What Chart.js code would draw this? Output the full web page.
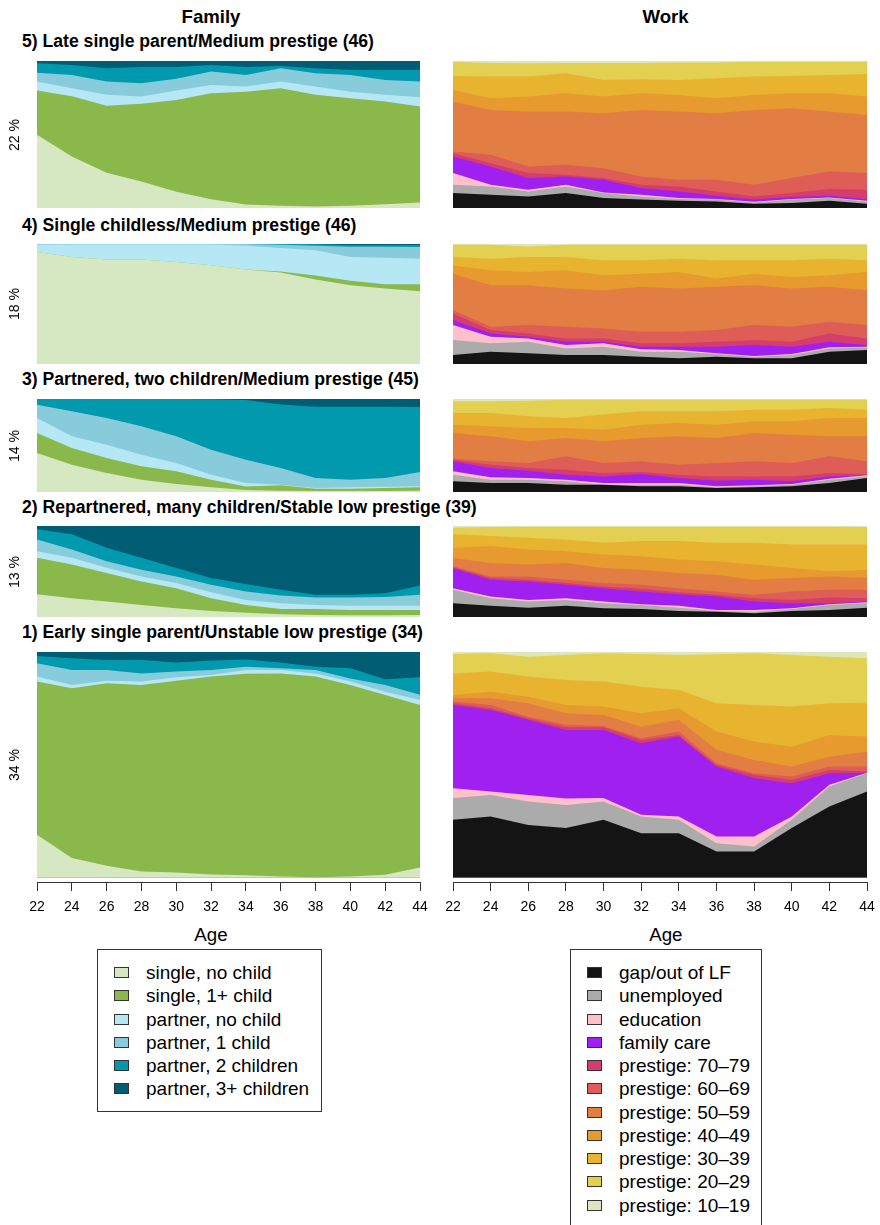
<!DOCTYPE html>
<html>
<head>
<meta charset="utf-8">
<script src="https://cdn.jsdelivr.net/npm/chart.js"></script>
<style>
    body { margin: 0; background: #fff; font-family: "Liberation Sans", Arial, sans-serif; }
    #page { position: relative; width: 880px; height: 1225px; overflow: hidden; background: #fff; }
    .txt { position: absolute; white-space: nowrap; line-height: 1; color: #000; }
    .head { font-weight: bold; font-size: 18.6px; transform: translateX(-50%); }
    .ptitle { font-weight: bold; font-size: 17.6px; left: 22px; }
    .ylab { font-size: 14px; transform: translate(-50%, -50%) rotate(-90deg); left: 14px; }
    .age { font-size: 18.7px; transform: translateX(-50%); top: 926px; }
    .legbox { position: absolute; border: 1px solid #333; box-sizing: border-box; }
    .sq { position: absolute; width: 15px; height: 11px; border: 1px solid #333; box-sizing: border-box; }
    .legtxt { position: absolute; font-size: 19px; line-height: 1; white-space: nowrap; }
</style>
</head>
<body>
<div id="page">
    <div class="txt head" style="left:211px; top:7.5px;">Family</div>
    <div class="txt head" style="left:665.5px; top:7.5px;">Work</div>
    <div class="legbox" style="left:97px; top:949px; width:225px; height:163px;"></div>
    <div class="legbox" style="left:570px; top:949px; width:192px; height:290px;"></div>
    <div class="txt age" style="left:211px;">Age</div>
    <div class="txt age" style="left:665.8px;">Age</div>
</div>

<script type="text/javascript">
    const ages = [22, 24, 26, 28, 30, 32, 34, 36, 38, 40, 42, 44];

    const familyStates = ['single, no child', 'single, 1+ child', 'partner, no child',
                          'partner, 1 child', 'partner, 2 children', 'partner, 3+ children'];
    const familyColors = ['#D5E8C1', '#8BB84A', '#B5E7F5', '#88CCDC', '#0099AD', '#015D73'];

    const workStates = ['gap/out of LF', 'unemployed', 'education', 'family care',
                        'prestige: 70\u201379', 'prestige: 60\u201369', 'prestige: 50\u201359',
                        'prestige: 40\u201349', 'prestige: 30\u201339', 'prestige: 20\u201329',
                        'prestige: 10\u201319'];
    const workColors = ['#141414', '#ABABAB', '#FFC0CB', '#A020F0', '#D63D6C', '#DE5D57',
                        '#E27E43', '#E79A2E', '#E8B42F', '#E3CF50', '#DFE6BF'];

    const clusterTitles = ['5) Late single parent/Medium prestige (46)',
                           '4) Single childless/Medium prestige (46)',
                           '3) Partnered, two children/Medium prestige (45)',
                           '2) Repartnered, many children/Stable low prestige (39)',
                           '1) Early single parent/Unstable low prestige (34)'];
    const clusterShares = ['22 %', '18 %', '14 %', '13 %', '34 %'];

    // upper edge of every state, cumulative % from the bottom of the panel
    const fam5 = [
        [49.8, 35, 24, 18, 11, 6, 2.3, 1.6, 1.1, 1.6, 2.5, 3.8],
        [80, 76, 69.5, 71, 73.5, 78, 79, 81.4, 77, 74.7, 72.4, 69],
        [86, 81.4, 77, 75.8, 80, 83.7, 82.6, 86, 82.6, 79, 77, 75.3],
        [92, 90.5, 86, 84.8, 88, 92.8, 90.5, 95, 91.6, 90.5, 87, 86],
        [98.4, 97.3, 95, 96, 96, 97.3, 96, 96.6, 95, 93.9, 93.9, 93.9],
        [100, 100, 100, 100, 100, 100, 100, 100, 100, 100, 100, 100]
    ];
    const fam4 = [
        [93.4, 89.2, 87, 87, 85, 82.3, 78.7, 76.2, 70.4, 65.7, 62.9, 60.7],
        [93.4, 89.2, 87, 87, 85, 82.3, 78.7, 77, 73.7, 69.3, 66.5, 66.5],
        [99.4, 99.6, 99.6, 99.6, 99.6, 99.6, 98.5, 96.7, 94.7, 89.2, 88.6, 87.8],
        [100, 100, 100, 100, 100, 100, 100, 99.4, 98.5, 97.8, 97.8, 97.5],
        [100, 100, 100, 100, 100, 100, 100, 100, 100, 99.2, 99.2, 99.2],
        [100, 100, 100, 100, 100, 100, 100, 100, 100, 100, 100, 100]
    ];
    const fam3 = [
        [42, 29.4, 20.4, 13.3, 8.6, 5, 2.2, 1.4, 1, 1, 1, 1.4],
        [63.4, 47.3, 36.6, 27.6, 22.2, 13.3, 6, 7.2, 3.6, 3.6, 4.3, 5],
        [79.6, 59.9, 50.9, 40, 31.2, 18.6, 9.7, 7.9, 4.3, 5, 5.7, 6.1],
        [93.9, 86.7, 79.6, 70.6, 59.9, 45.5, 34.8, 25.8, 15, 13.3, 15, 21.5],
        [100, 100, 100, 100, 100, 99.6, 98.9, 94, 91.8, 91.8, 91.8, 91.4],
        [100, 100, 100, 100, 100, 100, 100, 100, 100, 100, 100, 100]
    ];
    const fam2 = [
        [25, 20.7, 17, 13.3, 9.6, 6.6, 4.8, 3, 2.2, 1.8, 1.8, 2.2],
        [65, 57.6, 48.3, 39, 31.7, 20.7, 13.3, 8.9, 8.9, 7.7, 7.7, 7.7],
        [72.3, 65, 54, 44.6, 37.3, 27.3, 18.8, 15.1, 13.3, 12.5, 12.5, 12.5],
        [85.2, 74.2, 61.3, 52, 44.6, 35.4, 28, 23.6, 21.4, 21.4, 22.1, 24.4],
        [96.3, 90.8, 76, 65, 53.9, 42.8, 36.2, 29.9, 24.4, 24.4, 26.2, 34.7],
        [100, 100, 100, 100, 100, 100, 100, 100, 100, 100, 100, 100]
    ];
    const fam1 = [
        [18.9, 8.6, 5.2, 2.7, 2.2, 1.3, 1, 0.4, 0.1, 0.4, 1.2, 4.4],
        [86.9, 83.9, 86.1, 85.4, 87.3, 89.1, 90.3, 90.5, 89.1, 85.4, 80.9, 76.5],
        [89.1, 85.4, 87.3, 86.9, 88.8, 89.8, 92, 92, 90.5, 86.9, 82.4, 78.7],
        [95, 92, 92, 90.5, 91.3, 92, 93.5, 92.8, 92, 88.3, 85.4, 81],
        [98.2, 97.2, 96.5, 96.5, 95.3, 96.2, 96.7, 95.3, 93.5, 92.8, 87.9, 88.8],
        [100, 100, 100, 100, 100, 100, 100, 100, 100, 100, 100, 100]
    ];

    const work5 = [
        [10.2, 9, 7.9, 10.2, 6.8, 5.7, 5, 4.5, 2.9, 3.4, 5, 2.9],
        [15.8, 14.7, 11.3, 14.7, 10.2, 7.9, 6.1, 5.7, 3.8, 5.7, 6.8, 4.5],
        [23.8, 15.8, 12.4, 15.8, 10.6, 9, 6.8, 6.1, 4.3, 6.1, 7.2, 5],
        [35, 28.3, 20.4, 21.5, 19.2, 13.6, 11.3, 8.4, 5.7, 7.5, 8.4, 6.1],
        [37.3, 30.5, 23.8, 22.6, 20.4, 15.8, 14.7, 11.3, 7.9, 10.2, 12.9, 12.4],
        [38.5, 36.2, 28.3, 29.4, 27.1, 21.5, 19.2, 19.2, 15.8, 20.4, 24.9, 23.8],
        [72.4, 66.7, 65.6, 65.6, 64.5, 66.7, 65.6, 64.5, 66.7, 67.9, 65.6, 63.3],
        [80.3, 74.7, 75.8, 78, 75.8, 78, 76.9, 74.7, 76.9, 78, 78, 75.8],
        [89.8, 89.4, 89.4, 91.6, 87.1, 87.6, 87.1, 88.2, 89.4, 89.8, 90.5, 91.2],
        [99.5, 98.6, 98.5, 98.6, 98.6, 98.7, 98.9, 98.9, 99.5, 99.5, 99.5, 99.5],
        [100, 100, 100, 100, 100, 100, 100, 100, 100, 100, 100, 100]
    ];
    const work4 = [
        [7.5, 10.2, 8.9, 7.5, 7.5, 6.1, 4.7, 6.1, 4.7, 4.7, 10.2, 11.6],
        [19.9, 17.2, 18.6, 13, 14.4, 10.2, 10.2, 8.3, 6.1, 7.5, 13, 13.9],
        [32.4, 22.7, 21.3, 15.8, 17.2, 12.2, 11.6, 8.9, 6.6, 8.3, 13.9, 14.4],
        [36.6, 25.5, 22.7, 18.6, 18.6, 14.4, 14.4, 14.4, 15.8, 14.4, 18.6, 15.8],
        [42.1, 28.3, 25.5, 21.3, 21.3, 17.2, 17.2, 18.6, 19.9, 18.6, 25.5, 21.3],
        [44.9, 31, 32.4, 31, 29.6, 26.9, 26.9, 28.3, 32.4, 31, 35.2, 32.4],
        [75.3, 65.7, 65.7, 62.9, 61.5, 64.3, 62.9, 64.3, 65.7, 62.9, 64.3, 61.5],
        [82, 78.1, 76.7, 78.1, 74, 75.3, 76.7, 71.2, 75.3, 72.6, 74, 76.7],
        [89.2, 87.8, 89.2, 89.2, 86.4, 86.4, 87.8, 86.4, 86.4, 86.4, 87.8, 86.4],
        [99.4, 99.4, 98, 99.4, 99.4, 99.4, 99.4, 99.4, 99.4, 99.4, 99.4, 99.4],
        [100, 100, 100, 100, 100, 100, 100, 100, 100, 100, 100, 100]
    ];
    const work3 = [
        [11.5, 9.7, 9.7, 7.9, 7.9, 6.1, 6.1, 4.3, 5, 6.1, 9.7, 15.1],
        [18.6, 13.3, 13.3, 11.5, 7.9, 7.9, 7.9, 5, 6.1, 7.9, 13.3, 16.8],
        [22.2, 15.8, 15.1, 13.3, 9.7, 9.7, 9.7, 6.1, 7.2, 8.6, 14.3, 17.9],
        [33, 25.8, 22.9, 18.6, 16.8, 19.4, 15.1, 12.2, 13.3, 11.5, 16.8, 17.9],
        [34.8, 29.4, 25.8, 24, 20.4, 21.5, 18.6, 16.8, 16.8, 16.8, 20.4, 19.4],
        [35.8, 33, 31.2, 38.4, 31.2, 33, 29.4, 31.2, 33, 31.2, 38.4, 33],
        [63.4, 59.9, 54.5, 58.1, 54.5, 58.1, 59.9, 58.1, 63.4, 61.6, 59.9, 59.9],
        [72.4, 70.6, 68.8, 68.8, 67, 72.4, 74.2, 72.4, 76, 76, 79.6, 79.6],
        [84.9, 84.9, 81.4, 79.6, 83.2, 86.7, 86.7, 86.7, 88.5, 88.5, 90.3, 88.5],
        [97.5, 97.5, 98.2, 99.3, 99.3, 99.3, 99.3, 99.3, 99.3, 99.3, 99.3, 99.3],
        [100, 100, 100, 100, 100, 100, 100, 100, 100, 100, 100, 100]
    ];
    const work2 = [
        [15.1, 12.5, 10.3, 12.5, 9.6, 8.9, 6.6, 5.9, 4.1, 6.6, 7.7, 10.3],
        [29.9, 20.7, 17, 18.8, 15.1, 13.3, 10.3, 6.6, 5.9, 8.9, 13.3, 15.1],
        [31.7, 22.5, 18.8, 20.7, 17, 14, 12.5, 7.7, 7.7, 9.6, 14, 16.2],
        [53.9, 41, 39.1, 35.4, 31.7, 28, 25.1, 22.5, 17, 15.1, 15.1, 17],
        [54.6, 42.8, 41, 37.3, 33.6, 31, 27.3, 24.4, 20.7, 18.8, 21.4, 20.7],
        [55.7, 44.6, 44.6, 41, 37.3, 35.4, 31.7, 28, 24.4, 28, 29.9, 29.9],
        [64.9, 59.4, 57.6, 59.4, 53.9, 52, 48.3, 46.5, 41, 42.8, 44.6, 42.8],
        [76, 77.9, 74.2, 72.3, 68.6, 66.8, 63.1, 61.3, 57.6, 53.9, 50.2, 52],
        [90.8, 89, 87.1, 85.2, 81.5, 83.4, 83.4, 81.5, 81.5, 79.7, 79.7, 79.7],
        [98.2, 98.9, 99.3, 99.3, 99.3, 99.3, 99.3, 99.3, 99.3, 99.3, 99.3, 98.9],
        [100, 100, 100, 100, 100, 100, 100, 100, 100, 100, 100, 100]
    ];
    const work1 = [
        [25.6, 27, 23.3, 21.9, 25.6, 19.6, 19.6, 11.5, 11.5, 21.9, 31.5, 38.1],
        [35.2, 36.6, 33.7, 32.2, 33.7, 27, 25.6, 15.2, 13.7, 25.6, 40.3, 46.2],
        [39.6, 38.1, 36.6, 35, 35.2, 27.8, 27, 18.2, 18.2, 27, 41.1, 46.4],
        [76.5, 74.3, 69.9, 65.4, 65.4, 59.5, 62.5, 49.2, 44, 41.8, 46.2, 46.4],
        [77.3, 75, 70.6, 66.6, 66.6, 61, 63.2, 49.9, 45.5, 43.3, 47.7, 47],
        [78, 76.5, 71.3, 67.7, 67.2, 61.7, 64.7, 50.7, 46.2, 44.8, 49.2, 49.2],
        [79.5, 79.5, 77.3, 72.8, 72.1, 66.9, 69.9, 56.6, 52.1, 49.2, 53.6, 55.8],
        [80.9, 82.4, 80.2, 76.5, 75.8, 72.8, 75, 64.7, 60.3, 58, 63.2, 62.5],
        [90.5, 91.3, 89.1, 87.6, 86.9, 84.6, 83.2, 77.3, 76.5, 75.8, 77.3, 77.5],
        [99.1, 99.4, 97.9, 98.7, 99.4, 99.1, 98.7, 99, 99.4, 98.7, 97.9, 97.2],
        [100, 100, 100, 100, 100, 100, 100, 100, 100, 100, 100, 100]
    ];

    const familyPanels = [fam5, fam4, fam3, fam2, fam1];
    const workPanels = [work5, work4, work3, work2, work1];

    // panel rows: top of plot region and its height (px), last row carries the age axis
    const rowTops = [61, 244, 399, 526, 652];
    const rowHeights = [147, 120, 93, 91, 230];

    const page = document.getElementById('page');
    const fontFamily = '"Liberation Sans", Arial, sans-serif';

    function addText(cls, text, style) {
        const d = document.createElement('div');
        d.className = 'txt ' + cls;
        d.textContent = text;
        Object.assign(d.style, style);
        page.appendChild(d);
    }

    function drawPanel(edges, colors, left, top, width, height, withAxis) {
        const pad = 16;
        const axisH = withAxis ? 36 : 0;
        const canvas = document.createElement('canvas');
        canvas.width = width + 2 * pad;
        canvas.height = height + axisH;
        canvas.style.position = 'absolute';
        canvas.style.left = (left - pad) + 'px';
        canvas.style.top = top + 'px';
        page.appendChild(canvas);

        // every state is filled from 0 up to its upper edge; lower states are drawn on top
        const datasets = edges.map((edge, i) => ({
            data: ages.map((a, j) => ({ x: a, y: edge[j] })),
            backgroundColor: colors[i],
            borderColor: 'rgba(0,0,0,0)',
            borderWidth: 0,
            pointRadius: 0,
            tension: 0,
            fill: 'origin',
            order: i
        }));

        new Chart(canvas, {
            type: 'line',
            data: { datasets: datasets },
            options: {
                responsive: false,
                animation: false,
                devicePixelRatio: 1,
                events: [],
                layout: { autoPadding: false, padding: { left: pad, right: pad, top: 0, bottom: 0 } },
                plugins: { legend: { display: false }, tooltip: { enabled: false } },
                scales: {
                    x: {
                        type: 'linear', min: 22, max: 44, display: withAxis,
                        ticks: { stepSize: 2, color: '#000', font: { size: 14, family: fontFamily },
                                 padding: 8, maxRotation: 0, autoSkip: false },
                        grid: { drawOnChartArea: false, drawTicks: true, tickLength: 9, color: '#333' },
                        border: { display: true, color: '#333', width: 1 },
                        afterFit: (s) => { s.height = axisH; }
                    },
                    y: { min: withAxis ? -2 : 0, max: 100, display: false }
                }
            }
        });
    }

    for (let r = 0; r < 5; r++) {
        const last = r === 4;
        drawPanel(familyPanels[r], familyColors, 37, rowTops[r], 383, rowHeights[r], last);
        drawPanel(workPanels[r], workColors, 453, rowTops[r], 414, rowHeights[r], last);

        const titleTops = [33.4, 216.8, 371.4, 498.8, 624.1];
        addText('ptitle', clusterTitles[r], { top: titleTops[r] + 'px' });
        const plotH = last ? 226 : rowHeights[r];
        addText('ylab', clusterShares[r], { top: (rowTops[r] + plotH / 2) + 'px' });
    }

    function drawLegend(states, colors, sqLeft, txtLeft) {
        for (let i = 0; i < states.length; i++) {
            const cy = 972.7 + 23.25 * i;
            const sq = document.createElement('div');
            sq.className = 'sq';
            sq.style.left = sqLeft + 'px';
            sq.style.top = (cy - 5.5) + 'px';
            sq.style.background = colors[i];
            page.appendChild(sq);

            const t = document.createElement('div');
            t.className = 'legtxt';
            t.textContent = states[i];
            t.style.left = txtLeft + 'px';
            t.style.top = (cy - 9.5) + 'px';
            page.appendChild(t);
        }
    }

    drawLegend(familyStates, familyColors, 114, 146);
    drawLegend(workStates, workColors, 587, 619);
</script>
</body>
</html>
